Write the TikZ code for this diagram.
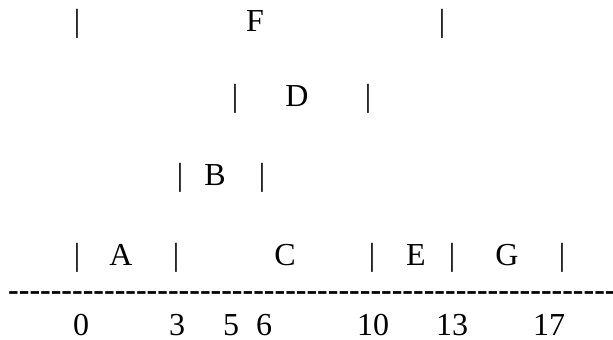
\documentclass[tikz,border=0pt]{standalone}
\usepackage{fontspec}
\setmainfont{Liberation Serif}
\newcommand{\hyph}{-\kern0pt}
\newcommand{\hyphten}{\hyph\hyph\hyph\hyph\hyph\hyph\hyph\hyph\hyph\hyph}
\begin{document}
\begin{tikzpicture}[x=1bp,y=-1bp,
  txt/.style={inner sep=0pt, anchor=base, font=\fontsize{32bp}{36bp}\selectfont}]
\useasboundingbox (0,0) rectangle (613,339);
\clip (0,0) rectangle (613,339);
% row F
\node[txt] (f1) at (77,31) {|};
\node[txt] (F) at (255,31) {F};
\node[txt] (f2) at (442,31) {|};
% row D
\node[txt] (d1) at (235,106) {|};
\node[txt] (D) at (297,106) {D};
\node[txt] (d2) at (368,106) {|};
% row B
\node[txt] (b1) at (180,185) {|};
\node[txt] (B) at (215,185) {B};
\node[txt] (b2) at (262,185) {|};
% row A C E G
\node[txt] (a1) at (77,265) {|};
\node[txt] (A) at (121,265) {A};
\node[txt] (a2) at (176,265) {|};
\node[txt] (C) at (285,265) {C};
\node[txt] (a3) at (372,265) {|};
\node[txt] (E) at (416,265) {E};
\node[txt] (a4) at (452,265) {|};
\node[txt] (G) at (507,265) {G};
\node[txt] (a5) at (562,265) {|};
% dashed rule
\node[txt, anchor=base west, font=\fontsize{32bp}{36bp}\selectfont\bfseries] (rule) at (8,300) {\hyphten\hyphten\hyphten\hyphten\hyphten\hyphten};
% numbers
\node[txt] (n0) at (81,335) {0};
\node[txt] (n3) at (177,335) {3};
\node[txt] (n5) at (231,335) {5};
\node[txt] (n6) at (264,335) {6};
\node[txt] (n10) at (373,335) {10};
\node[txt] (n13) at (452,335) {13};
\node[txt] (n17) at (549,335) {17};
\end{tikzpicture}
\end{document}
